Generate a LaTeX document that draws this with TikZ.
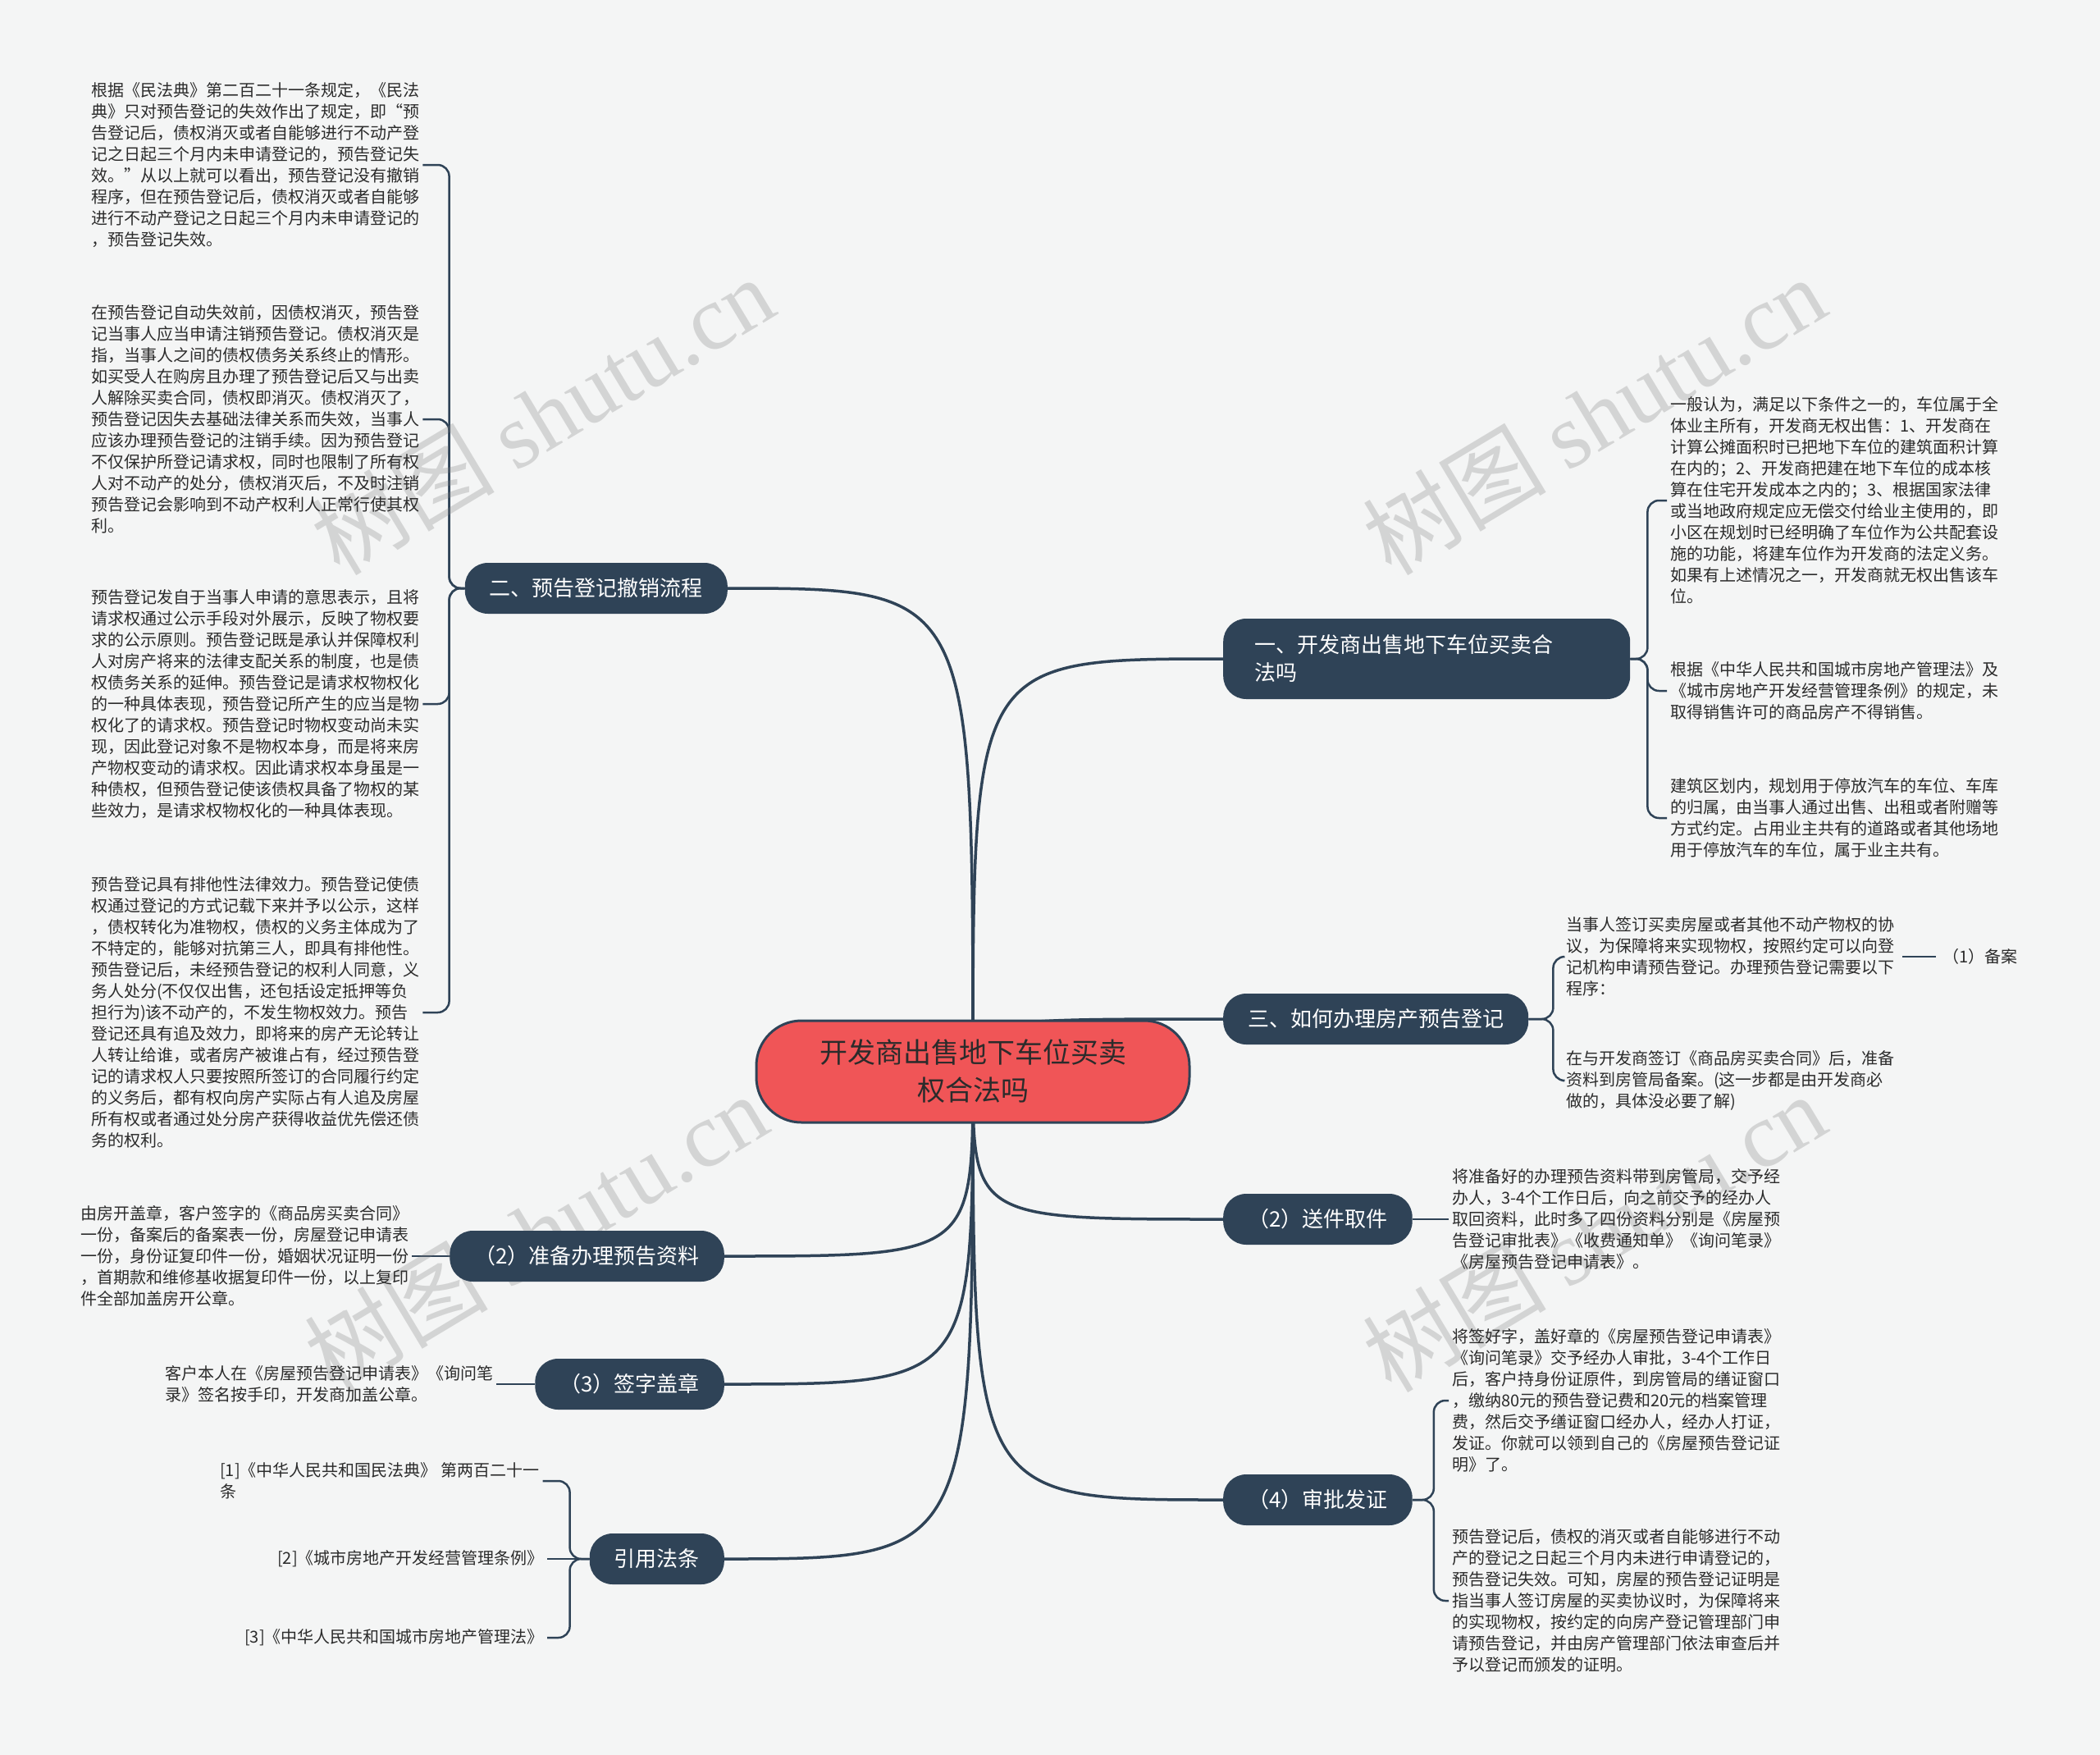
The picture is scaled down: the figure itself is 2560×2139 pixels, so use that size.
\documentclass[tikz,border=0pt]{standalone}
\usepackage{fontspec}
\setmainfont{Noto Sans CJK SC}
\newfontfamily\wmserif{Liberation Serif}
\pgfdeclarelayer{back}
\pgfdeclarelayer{edges}
\pgfsetlayers{back,edges,main}
\definecolor{bgc}{HTML}{F4F5F5}
\definecolor{navy}{HTML}{2F4357}
\definecolor{redc}{HTML}{F05557}
\definecolor{txt}{HTML}{2B2B2B}
\tikzset{
  centernode/.style={draw=navy, line width=3pt, fill=redc, rounded corners=55pt,
    minimum width=528pt, minimum height=124pt, align=center, text=txt,
    font=\fontsize{34}{46}\selectfont},
  branch/.style={fill=navy, rounded corners=28pt, text=white, align=left,
    inner xsep=30pt, inner ysep=0pt, minimum height=62pt,
    font=\fontsize{26}{34}\selectfont},
  leaf/.style={font=\fontsize{20}{26}\selectfont, align=left, inner sep=4pt, text=txt},
  conn/.style={draw=navy, line width=3.5pt},
  leafconn/.style={draw=navy, line width=2.5pt, rounded corners=14pt},
  wmark/.style={rotate=31, text=gray, text opacity=0.28,
    font=\fontsize{112}{112}\selectfont}
}
\begin{document}
\begin{tikzpicture}[x=1pt,y=-1pt]
\useasboundingbox (0,0) rectangle (2560,2139);
\begin{pgfonlayer}{back}
\fill[bgc] (0,0) rectangle (2560,2139);
\end{pgfonlayer}

% watermarks
\node[wmark] (w1) at (661,506) {树图 {\wmserif shutu.cn}};
\node[wmark] (w2) at (1943,506) {树图 {\wmserif shutu.cn}};
\node[wmark] (w3) at (653,1502) {树图 {\wmserif shutu.cn}};
\node[wmark] (w4) at (1943,1502) {树图 {\wmserif shutu.cn}};

% center
\node[centernode] (c) at (1186,1306) {开发商出售地下车位买卖\\权合法吗};

% branches
\node[branch, anchor=west, text width=420pt, inner xsep=38pt, minimum height=98pt] (n1) at (1491,803) {一、开发商出售地下车位买卖合\\法吗};
\node[branch, anchor=east] (n2) at (887,717) {二、预告登记撤销流程};
\node[branch, anchor=west] (n3) at (1491,1242) {三、如何办理房产预告登记};
\node[branch, anchor=west] (n4) at (1491,1486) {（2）送件取件};
\node[branch, anchor=east] (n5) at (883,1531) {（2）准备办理预告资料};
\node[branch, anchor=east] (n6) at (883,1687) {（3）签字盖章};
\node[branch, anchor=west] (n7) at (1491,1828) {（4）审批发证};
\node[branch, anchor=east] (n8) at (883,1900) {引用法条};

% left leaves of n2
\node[leaf, anchor=west] (l1) at (107,201) {根据《民法典》第二百二十一条规定，《民法\\典》只对预告登记的失效作出了规定，即“预\\告登记后，债权消灭或者自能够进行不动产登\\记之日起三个月内未申请登记的，预告登记失\\效。”从以上就可以看出，预告登记没有撤销\\程序，但在预告登记后，债权消灭或者自能够\\进行不动产登记之日起三个月内未申请登记的\\，预告登记失效。};
\node[leaf, anchor=west] (l2) at (107,511) {在预告登记自动失效前，因债权消灭，预告登\\记当事人应当申请注销预告登记。债权消灭是\\指，当事人之间的债权债务关系终止的情形。\\如买受人在购房且办理了预告登记后又与出卖\\人解除买卖合同，债权即消灭。债权消灭了，\\预告登记因失去基础法律关系而失效，当事人\\应该办理预告登记的注销手续。因为预告登记\\不仅保护所登记请求权，同时也限制了所有权\\人对不动产的处分，债权消灭后，不及时注销\\预告登记会影响到不动产权利人正常行使其权\\利。};
\node[leaf, anchor=west] (l3) at (107,858) {预告登记发自于当事人申请的意思表示，且将\\请求权通过公示手段对外展示，反映了物权要\\求的公示原则。预告登记既是承认并保障权利\\人对房产将来的法律支配关系的制度，也是债\\权债务关系的延伸。预告登记是请求权物权化\\的一种具体表现，预告登记所产生的应当是物\\权化了的请求权。预告登记时物权变动尚未实\\现，因此登记对象不是物权本身，而是将来房\\产物权变动的请求权。因此请求权本身虽是一\\种债权，但预告登记使该债权具备了物权的某\\些效力，是请求权物权化的一种具体表现。};
\node[leaf, anchor=west] (l4) at (107,1234) {预告登记具有排他性法律效力。预告登记使债\\权通过登记的方式记载下来并予以公示，这样\\，债权转化为准物权，债权的义务主体成为了\\不特定的，能够对抗第三人，即具有排他性。\\预告登记后，未经预告登记的权利人同意，义\\务人处分(不仅仅出售，还包括设定抵押等负\\担行为)该不动产的，不发生物权效力。预告\\登记还具有追及效力，即将来的房产无论转让\\人转让给谁，或者房产被谁占有，经过预告登\\记的请求权人只要按照所签订的合同履行约定\\的义务后，都有权向房产实际占有人追及房屋\\所有权或者通过处分房产获得收益优先偿还债\\务的权利。};

% other left leaves
\node[leaf, anchor=west] (l5) at (94,1531) {由房开盖章，客户签字的《商品房买卖合同》\\一份，备案后的备案表一份，房屋登记申请表\\一份，身份证复印件一份，婚姻状况证明一份\\，首期款和维修基收据复印件一份，以上复印\\件全部加盖房开公章。};
\node[leaf, anchor=west] (l6) at (197,1687) {客户本人在《房屋预告登记申请表》《询问笔\\录》签名按手印，开发商加盖公章。};
\node[leaf, anchor=west] (c1) at (264,1805) {[1]《中华人民共和国民法典》 第两百二十一\\条};
\node[leaf, anchor=east] (c2) at (667,1900) {[2]《城市房地产开发经营管理条例》};
\node[leaf, anchor=east] (c3) at (667,1996) {[3]《中华人民共和国城市房地产管理法》};

% right leaves of n1
\node[leaf, anchor=west] (r1) at (2032,610) {一般认为，满足以下条件之一的，车位属于全\\体业主所有，开发商无权出售：1、开发商在\\计算公摊面积时已把地下车位的建筑面积计算\\在内的；2、开发商把建在地下车位的成本核\\算在住宅开发成本之内的；3、根据国家法律\\或当地政府规定应无偿交付给业主使用的，即\\小区在规划时已经明确了车位作为公共配套设\\施的功能，将建车位作为开发商的法定义务。\\如果有上述情况之一，开发商就无权出售该车\\位。};
\node[leaf, anchor=west] (r2) at (2032,842) {根据《中华人民共和国城市房地产管理法》及\\《城市房地产开发经营管理条例》的规定，未\\取得销售许可的商品房产不得销售。};
\node[leaf, anchor=west] (r3) at (2032,997) {建筑区划内，规划用于停放汽车的车位、车库\\的归属，由当事人通过出售、出租或者附赠等\\方式约定。占用业主共有的道路或者其他场地\\用于停放汽车的车位，属于业主共有。};

% leaves of n3
\node[leaf, anchor=west] (r4) at (1905,1166) {当事人签订买卖房屋或者其他不动产物权的协\\议，为保障将来实现物权，按照约定可以向登\\记机构申请预告登记。办理预告登记需要以下\\程序：};
\node[leaf, anchor=west] (r4a) at (2364,1166) {（1）备案};
\node[leaf, anchor=west] (r5) at (1905,1317) {在与开发商签订《商品房买卖合同》后，准备\\资料到房管局备案。(这一步都是由开发商必\\做的，具体没必要了解)};

% leaves of n4, n7
\node[leaf, anchor=west] (r6) at (1766,1486) {将准备好的办理预告资料带到房管局，交予经\\办人，3-4个工作日后，向之前交予的经办人\\取回资料，此时多了四份资料分别是《房屋预\\告登记审批表》《收费通知单》《询问笔录》\\《房屋预告登记申请表》。};
\node[leaf, anchor=west] (r7) at (1766,1707) {将签好字，盖好章的《房屋预告登记申请表》\\《询问笔录》交予经办人审批，3-4个工作日\\后，客户持身份证原件，到房管局的缮证窗口\\，缴纳80元的预告登记费和20元的档案管理\\费，然后交予缮证窗口经办人，经办人打证，\\发证。你就可以领到自己的《房屋预告登记证\\明》了。};
\node[leaf, anchor=west] (r8) at (1766,1951) {预告登记后，债权的消灭或者自能够进行不动\\产的登记之日起三个月内未进行申请登记的，\\预告登记失效。可知，房屋的预告登记证明是\\指当事人签订房屋的买卖协议时，为保障将来\\的实现物权，按约定的向房产登记管理部门申\\请预告登记，并由房产管理部门依法审查后并\\予以登记而颁发的证明。};

\begin{pgfonlayer}{edges}
% center to branches
\draw[conn] (c.center) .. controls (c.center |- n1.west) .. (n1.west);
\draw[conn] (c.center) .. controls (c.center |- n2.east) .. (n2.east);
\draw[conn] (c.center) .. controls (c.center |- n3.west) .. (n3.west);
\draw[conn] (c.center) .. controls (c.center |- n4.west) .. (n4.west);
\draw[conn] (c.center) .. controls (c.center |- n5.east) .. (n5.east);
\draw[conn] (c.center) .. controls (c.center |- n6.east) .. (n6.east);
\draw[conn] (c.center) .. controls (c.center |- n7.west) .. (n7.west);
\draw[conn] (c.center) .. controls (c.center |- n8.east) .. (n8.east);
% brackets
\foreach \l in {l1,l2,l3,l4} \draw[leafconn] (n2.west) -- ++(-19,0) |- (\l.east);
\foreach \r in {r1,r2,r3} \draw[leafconn] (n1.east) -- ++(21,0) |- (\r.west);
\foreach \r in {r4,r5} \draw[leafconn] (n3.east) -- ++(30,0) |- (\r.west);
\foreach \r in {r7,r8} \draw[leafconn] (n7.east) -- ++(26,0) |- (\r.west);
\foreach \l in {c1,c3} \draw[leafconn] (n8.west) -- ++(-24,0) |- (\l.east);
\draw[leafconn] (n8.west) -- (c2.east);
\draw[leafconn] (n4.east) -- (r6.west);
\draw[leafconn] (n5.east) -- (l5.east);
\draw[leafconn] (n6.west) -- (l6.east);
\draw[leafconn, shorten <=6pt, shorten >=4pt] (r4.east) -- (r4a.west);
\end{pgfonlayer}
\end{tikzpicture}
\end{document}
